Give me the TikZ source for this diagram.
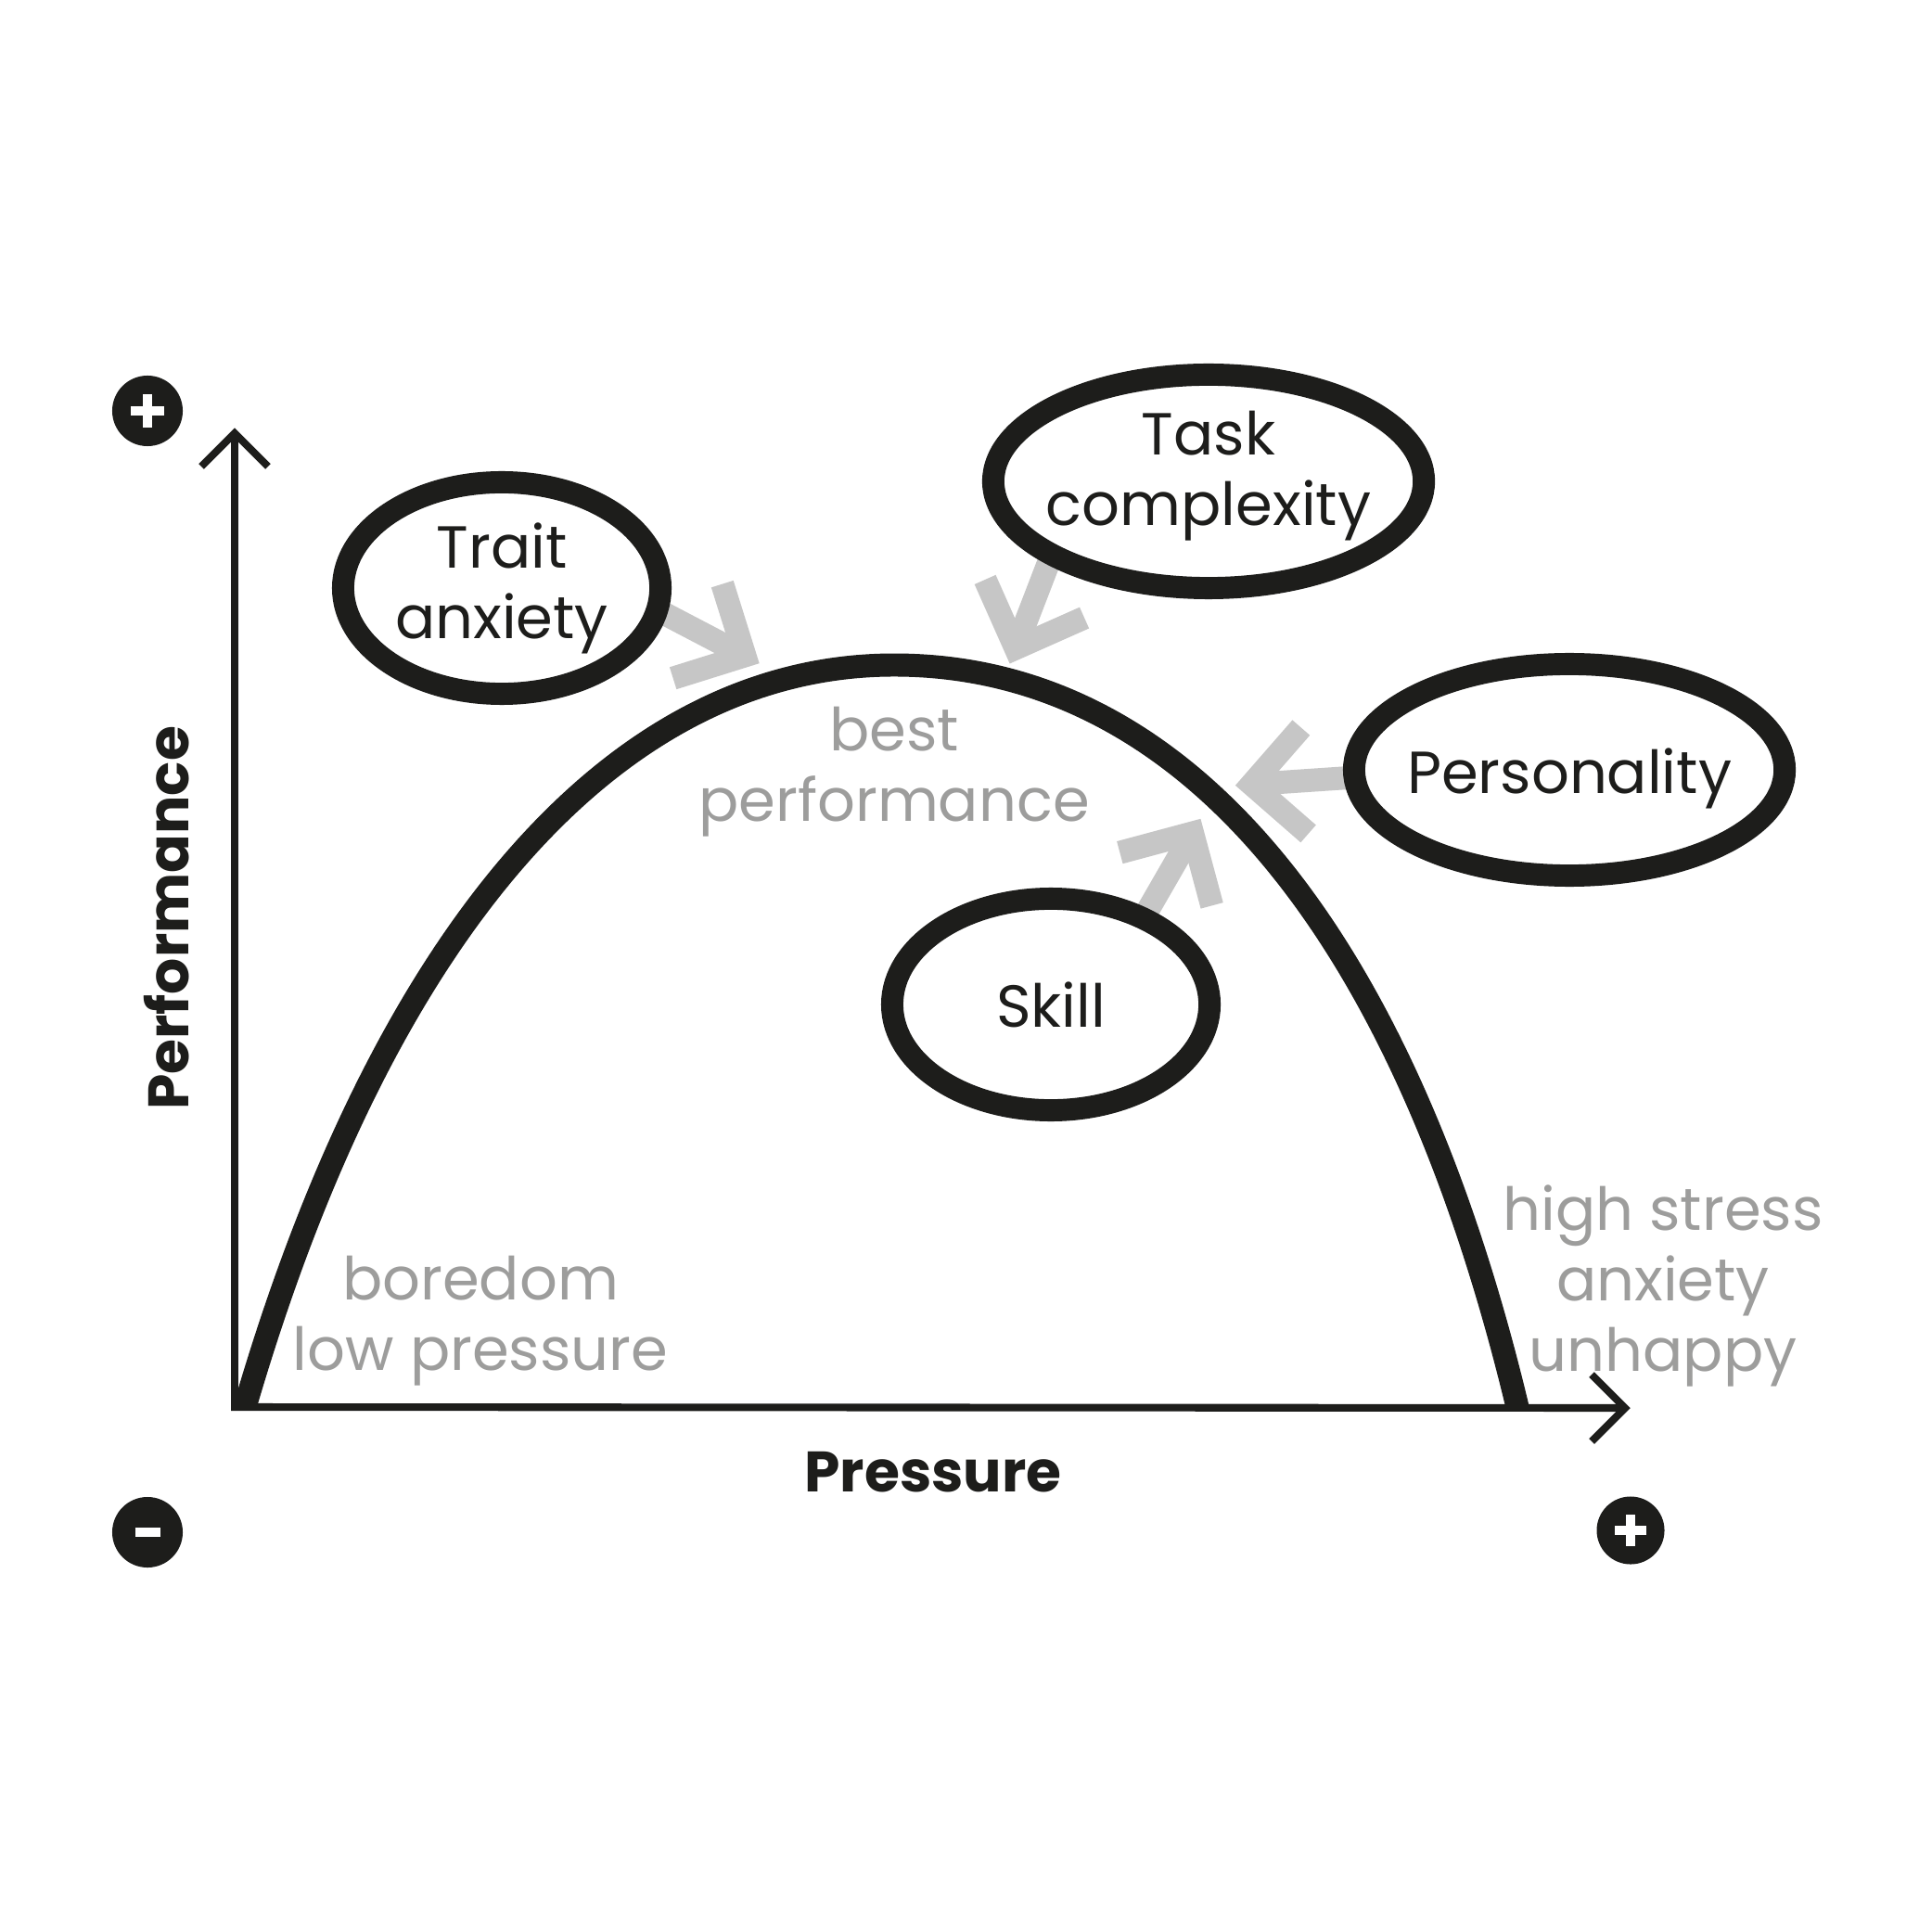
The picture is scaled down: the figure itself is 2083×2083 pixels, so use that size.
\documentclass[tikz,border=0pt]{standalone}
\usepackage{fontspec}
\setmainfont{Poppins}
\usetikzlibrary{shapes.geometric,calc}
\definecolor{ink}{HTML}{1D1D1B}
\definecolor{txtgray}{HTML}{9D9D9C}
\definecolor{arrgray}{HTML}{C6C6C6}
\pgfdeclarelayer{bg}
\pgfdeclarelayer{mid}
\pgfsetlayers{bg,mid,main}
\newcommand\grayarrow[2]{%
  \draw[garrow] (#1) -- (#2);
  \draw[garrow] ($(#2)!0.81cm!45:(#1)$) -- (#2) -- ($(#2)!0.81cm!-45:(#1)$);}
\begin{document}
\begin{tikzpicture}[x=0.01cm,y=-0.01cm,
  oval/.style={ellipse, draw=ink, line width=6.8pt, inner sep=0pt, outer sep=0pt},
  lbl/.style={text=ink, font=\fontsize{18.2}{21.6}\selectfont, align=center, inner sep=0pt},
  gtxt/.style={text=txtgray, font=\fontsize{18.2}{21.6}\selectfont, align=center, inner sep=0pt},
  axlbl/.style={text=ink, font=\fontsize{17.5}{21.6}\selectfont\bfseries, inner sep=0pt},
  axisline/.style={draw=ink, line width=2.3pt},
  curveline/.style={draw=ink, line width=7.1pt},
  garrow/.style={draw=arrgray, line width=7.1pt},
  sign/.style={circle, fill=ink, inner sep=0pt, minimum size=0.76cm},
  bar/.style={draw=white, line width=2.85pt}]
\useasboundingbox (0,0) rectangle (2083,2083);
\begin{pgfonlayer}{bg}
\fill[white] (0,0) rectangle (2083,2083);
\end{pgfonlayer}

% ellipses
\node[oval, minimum width=3.42cm, minimum height=2.28cm] (trait) at (541,634) {};
\node[oval, minimum width=4.64cm, minimum height=2.30cm] (task) at (1303,519) {};
\node[oval, minimum width=4.64cm, minimum height=2.28cm] (pers) at (1692,830) {};
\node[oval, minimum width=3.42cm, minimum height=2.28cm] (skill) at (1133,1083) {};

\node[lbl] (traitlbl) at (541,634) {Trait\\anxiety};
\node[lbl] (tasklbl) at (1303,513) {Task\\complexity};
\node[lbl] (perslbl) at (1692,839) {Personality};
\node[lbl] (skilllbl) at (1133,1083) {Skill};

% apex points of gray arrows
\coordinate (apxA) at (803,707);
\coordinate (apxB) at (1095,699);
\coordinate (apxC) at (1349.5,845.6);
\coordinate (apxD) at (1285.6,898.1);
\begin{pgfonlayer}{mid}
\grayarrow{trait.-8.5}{apxA}
\grayarrow{task.205.7}{apxB}
\grayarrow{pers.182.4}{apxC}
\grayarrow{skill.43.2}{apxD}
\end{pgfonlayer}

% performance curve
\coordinate (cstart) at (264,1517);
\coordinate (cpeak) at (964,717);
\coordinate (cend) at (1636,1517);
\begin{scope}
\clip (0,0) rectangle (2083,1519);
\draw[curveline] (cstart) .. controls (414,1002.5) and (664,717) .. (cpeak)
  .. controls (1284,717) and (1516,1016.6) .. (cend);
\end{scope}

% axes
\coordinate (origin) at (253,1517);
\coordinate (ytip) at (253,467);
\coordinate (xtip) at (1752,1518);
\draw[axisline] (249,1517) -- (xtip);
\draw[axisline] (origin) -- (ytip);
\draw[axisline] ($(ytip)+(-36,36)$) -- (ytip) -- ($(ytip)+(36,36)$);
\draw[axisline] ($(xtip)+(-36,-36)$) -- (xtip) -- ($(xtip)+(-36,36)$);

\node[axlbl] (xlbl) at (1006,1587) {Pressure};
\node[axlbl, rotate=90] (ylbl) at (180,990) {Performance};

% gray texts
\node[gtxt] (best) at (964,832) {best\\performance};
\node[gtxt] (bored) at (518,1424) {boredom\\low pressure};
\node[gtxt] (stress) at (1793,1386) {high stress\\anxiety\\unhappy};

% signs
\node[sign] (plusA) at (159,443) {};
\draw[bar] ($(plusA)+(-18,0)$) -- ($(plusA)+(18,0)$);
\draw[bar] ($(plusA)+(0,-18)$) -- ($(plusA)+(0,18)$);
\node[sign] (minus) at (159,1652) {};
\draw[bar] ($(minus)+(-13.5,0)$) -- ($(minus)+(13.5,0)$);
\node[sign, minimum size=0.73cm] (plusB) at (1758,1650) {};
\draw[bar] ($(plusB)+(-17,0)$) -- ($(plusB)+(17,0)$);
\draw[bar] ($(plusB)+(0,-17)$) -- ($(plusB)+(0,17)$);
\end{tikzpicture}
\end{document}
